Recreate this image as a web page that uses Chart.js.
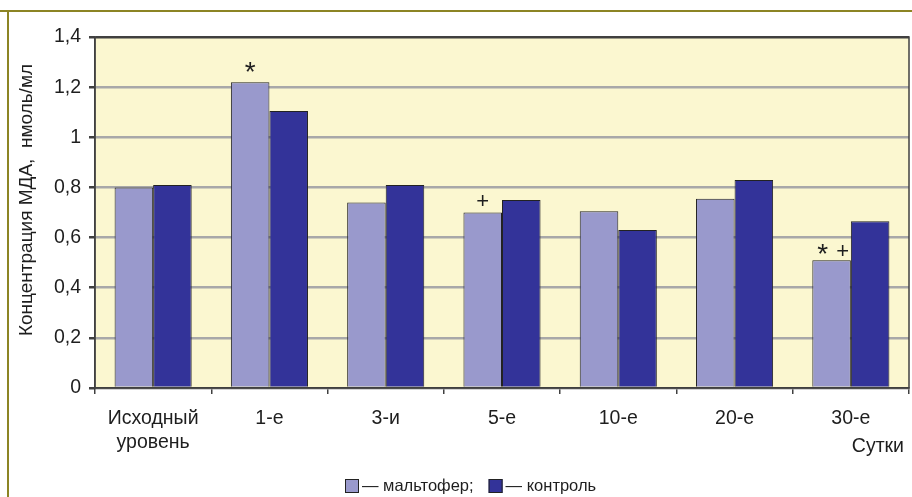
<!DOCTYPE html>
<html>
<head>
<meta charset="utf-8">
<script src="https://cdn.jsdelivr.net/npm/chart.js@4.4.0/dist/chart.umd.min.js"></script>
<style>
html,body{margin:0;padding:0;background:#fff;}
#wrap{width:912px;height:497px;position:relative;}
</style>
</head>
<body>
<div id="wrap"><canvas id="c" width="912" height="497"></canvas></div>
<script>
// ---- data ----
const categories = [["Исходный","уровень"], "1-е", "3-и", "5-е", "10-е", "20-е", "30-е"];
const maltofer = [0.80, 1.22, 0.74, 0.70, 0.705, 0.755, 0.51];
const control  = [0.81, 1.105, 0.81, 0.75, 0.63, 0.83, 0.665];
const marks    = ["", "*", "", "+", "", "", "* +"];
const seriesNames = ["— мальтофер;", "— контроль"];
const yTicks = [0, 0.2, 0.4, 0.6, 0.8, 1.0, 1.2, 1.4];
const yTitle = "Концентрация МДА,  нмоль/мл";
const xTitle = "Сутки";

const FONT = "'Liberation Sans', Arial, sans-serif";
const LIGHT = "#9999cc", DARK = "#333399";
const TXT = "#1e1e1e";

const decorPlugin = {
  id: 'decor',
  beforeDraw(chart) {
    const {ctx, chartArea: a} = chart;
    ctx.save();
    ctx.fillStyle = "#fbf7d0";
    ctx.fillRect(a.left, a.top, a.right - a.left, a.bottom - a.top);
    ctx.restore();
  },
  afterDraw(chart) {
    const {ctx, chartArea: a} = chart;
    ctx.save();
    // outer olive frame (top & left)
    ctx.fillStyle = "#8c8424";
    ctx.fillRect(0, 10, 912, 2);
    ctx.fillRect(7, 10, 2, 487);
    // plot border
    ctx.strokeStyle = "#404040";
    ctx.lineWidth = 1.5;
    ctx.strokeRect(a.left, a.top, a.right - a.left, a.bottom - a.top);
    // y axis title
    ctx.save();
    ctx.translate(27, 200);
    ctx.rotate(-Math.PI / 2);
    ctx.font = "19px " + FONT;
    ctx.fillStyle = TXT;
    ctx.textAlign = "center";
    ctx.textBaseline = "middle";
    ctx.fillText(yTitle, 0, 0);
    ctx.restore();
    // significance marks
    const meta = chart.getDatasetMeta(0);
    ctx.fillStyle = TXT;
    ctx.textAlign = "center";
    ctx.textBaseline = "alphabetic";
    const star = (x, cy) => { ctx.font = "28px " + FONT; ctx.fillText("*", x, cy + 16); };
    const plus = (x, cy) => { ctx.font = "22px " + FONT; ctx.fillText("+", x, cy + 8); };
    marks.forEach((m, i) => {
      if (!m) return;
      const bar = meta.data[i];
      if (m === "*") {
        star(bar.x, bar.y - 17.5);
      } else if (m === "+") {
        plus(bar.x, bar.y - 13);
      } else {
        star(bar.x - 9, bar.y - 13.5);
        plus(bar.x + 11, bar.y - 10);
      }
    });
    // x axis title
    ctx.font = "19.5px " + FONT;
    ctx.fillStyle = TXT;
    ctx.textAlign = "right";
    ctx.textBaseline = "middle";
    ctx.fillText(xTitle, 904, 447);
    // legend
    const ds = chart.data.datasets;
    let x = 345;
    const y = 486;
    ds.forEach((d, i) => {
      ctx.fillStyle = d.backgroundColor;
      ctx.fillRect(x, y - 7, 14, 14);
      ctx.strokeStyle = "#222";
      ctx.lineWidth = 1;
      ctx.strokeRect(x + 0.5, y - 6.5, 13, 13);
      ctx.fillStyle = TXT;
      ctx.textAlign = "left";
      ctx.font = "16.5px " + FONT;
      ctx.fillText(d.label, x + 17, y);
      x += 17 + ctx.measureText(d.label).width + 15;
    });
    ctx.restore();
  }
};

new Chart(document.getElementById('c'), {
  type: 'bar',
  data: {
    labels: categories,
    datasets: [
      {label: seriesNames[0], data: maltofer, backgroundColor: LIGHT, borderColor: "#222", borderWidth: 1},
      {label: seriesNames[1], data: control, backgroundColor: DARK, borderColor: "#222", borderWidth: 1}
    ]
  },
  options: {
    responsive: false,
    animation: false,
    layout: {padding: {left: 0, right: 3, top: 37, bottom: 0}},
    datasets: {bar: {categoryPercentage: 0.663, barPercentage: 1.0}},
    plugins: {legend: {display: false}, tooltip: {enabled: false}},
    scales: {
      x: {
        grid: {offset: true, drawOnChartArea: false, drawTicks: true, tickLength: 6, tickColor: "#404040", lineWidth: 1.5},
        border: {display: true, color: "#404040", width: 1.5},
        ticks: {font: {family: FONT, size: 19.5, lineHeight: 1.22}, color: TXT, padding: 13, maxRotation: 0, autoSkip: false},
        afterFit(s) { s.height = 109; }
      },
      y: {
        min: 0, max: 1.4,
        afterBuildTicks(s) { s.ticks = yTicks.map(v => ({value: v})); },
        grid: {
          color: (c) => (c.tick && c.tick.value >= 1.4) ? "#404040" : "#a8a8a8",
          lineWidth: 2.5,
          tickColor: "#404040",
          tickLength: 6
        },
        border: {display: true, color: "#404040", width: 1.5},
        ticks: {
          font: {family: FONT, size: 19.5}, color: TXT, padding: 8,
          callback: (v) => String(Math.round(v * 10) / 10).replace('.', ',')
        },
        title: {display: false},
        afterFit(s) { s.width = 95; }
      }
    }
  },
  plugins: [decorPlugin]
});
</script>
</body>
</html>
